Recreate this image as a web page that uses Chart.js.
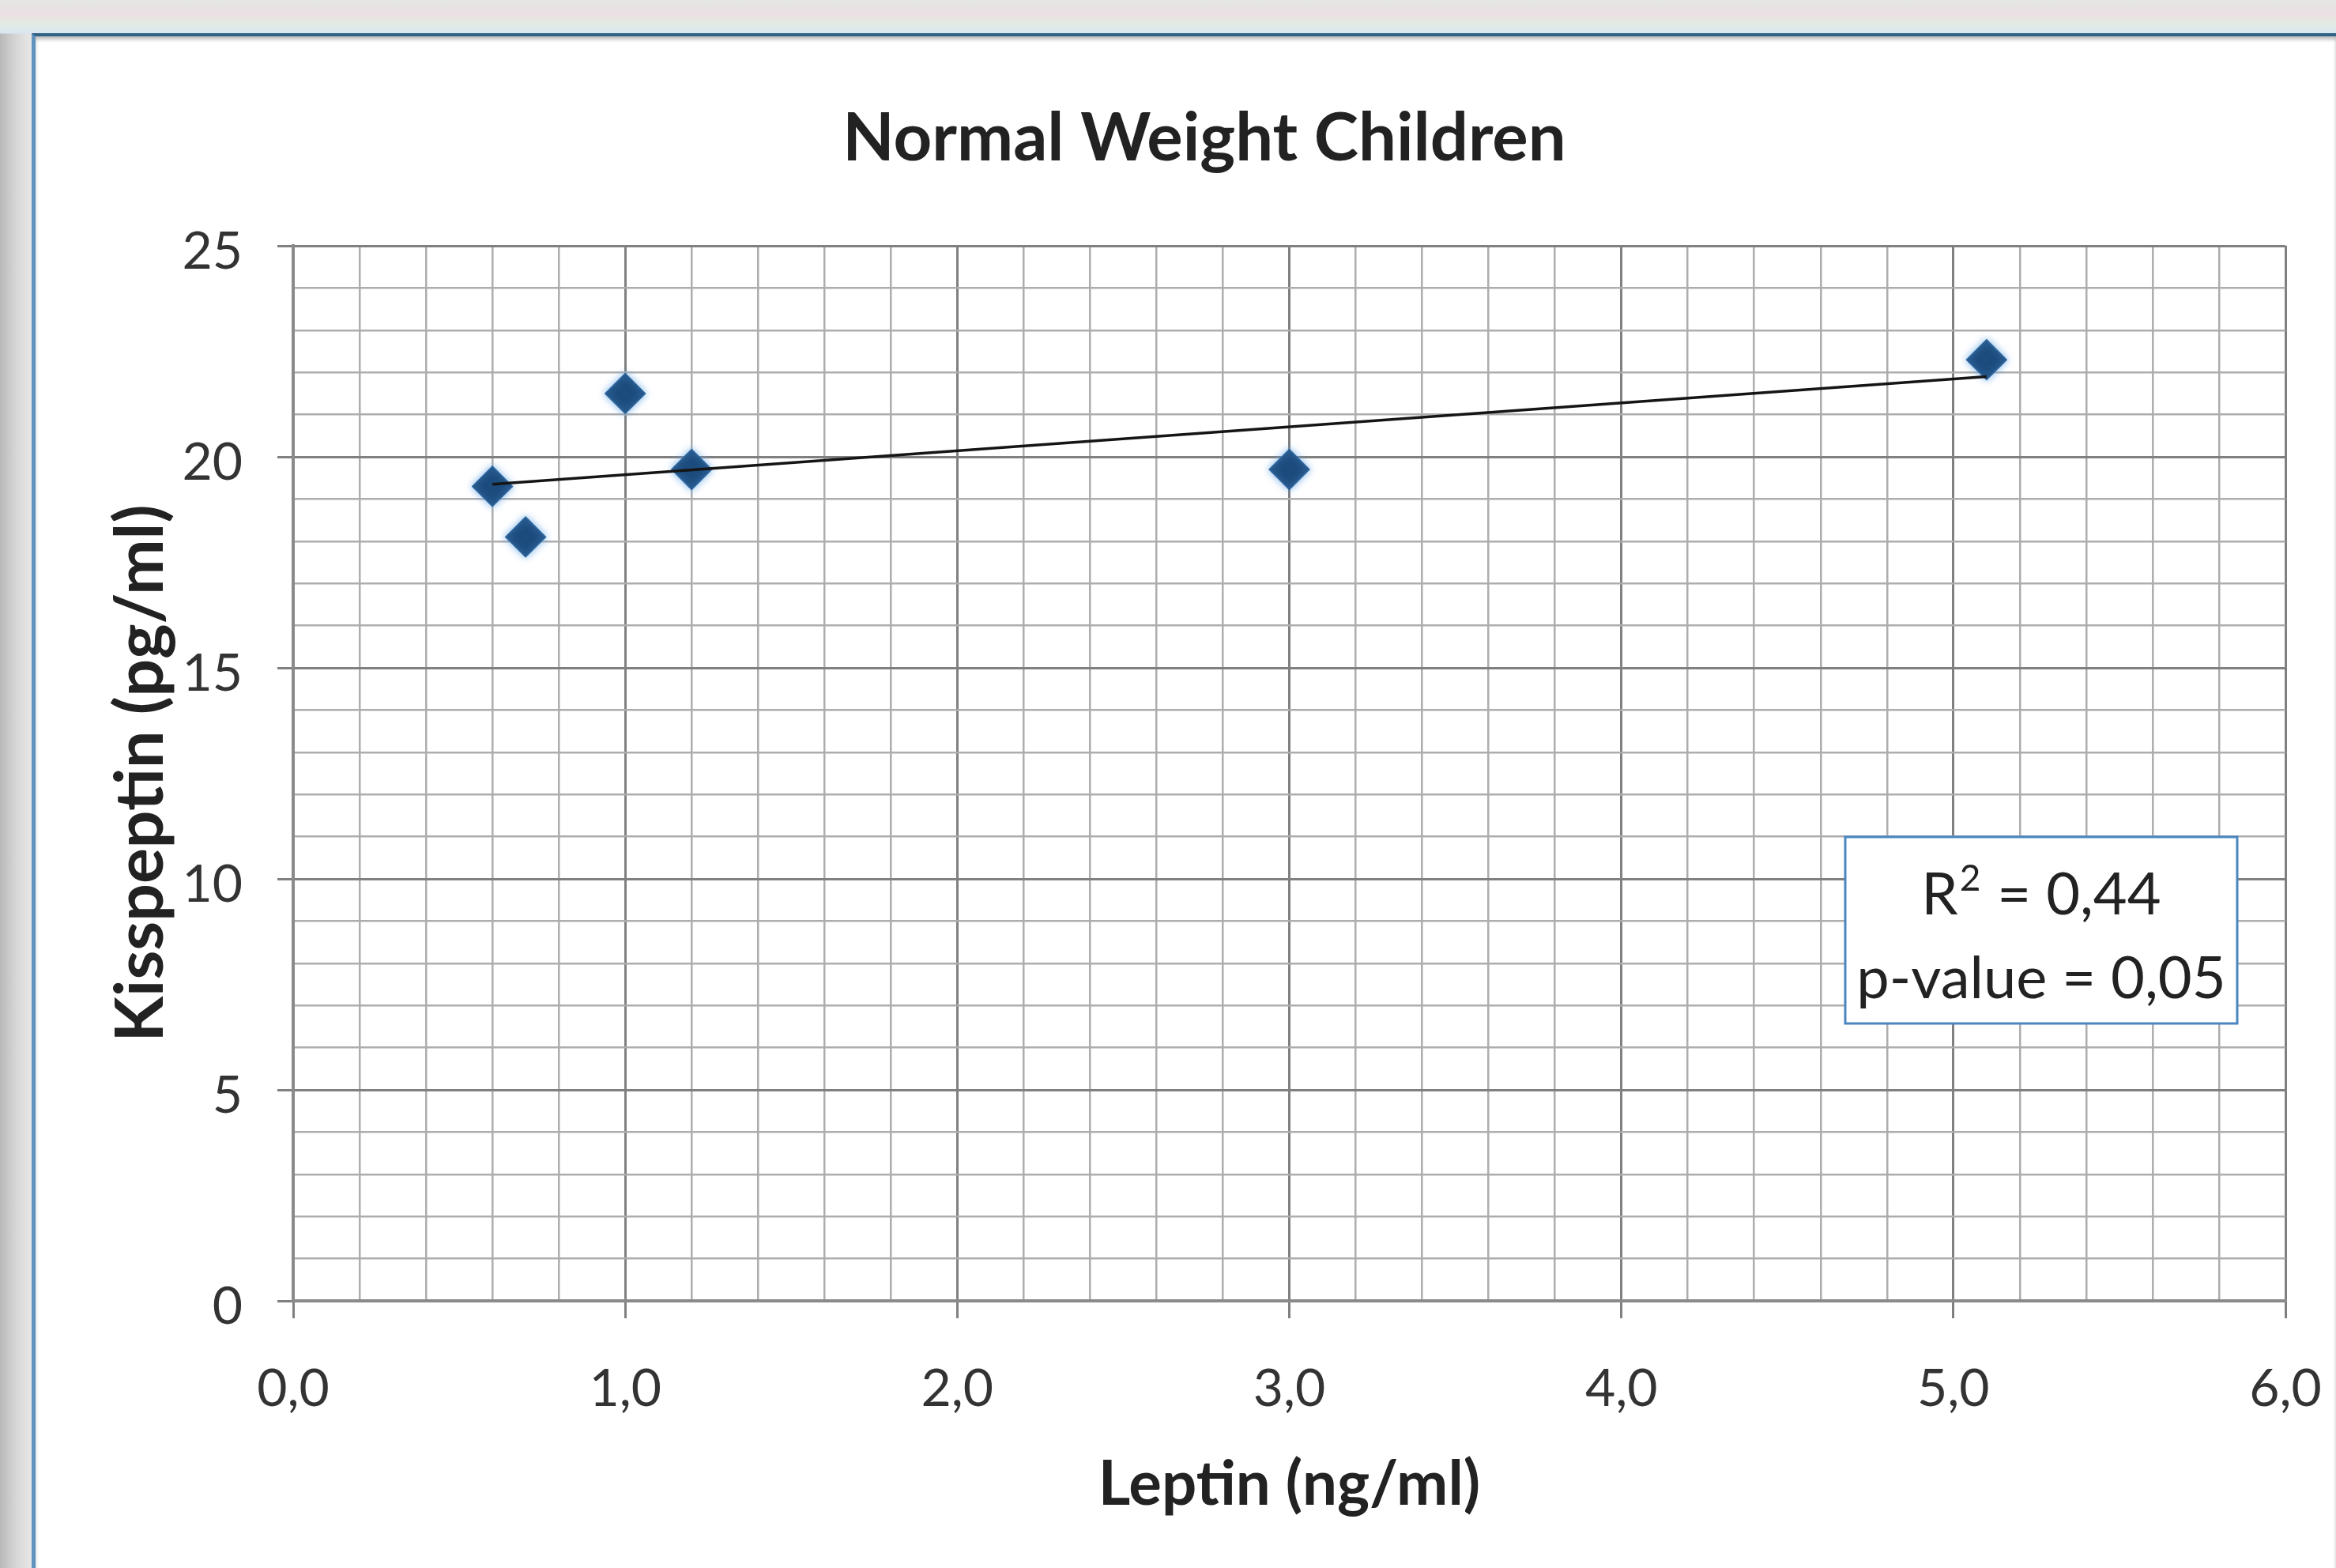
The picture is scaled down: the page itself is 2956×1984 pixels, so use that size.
<!DOCTYPE html>
<html>
<head>
<meta charset="utf-8">
<script src="https://cdn.jsdelivr.net/npm/chart.js@4"></script>
<style>
  html, body { margin:0; padding:0; width:2956px; height:1984px; overflow:hidden; }
  body {
    background:
      linear-gradient(to bottom, #e4e8e4 0px, #ecdfe3 18px, #e2ebe2 30px, #d8e6f2 42px, transparent 43px),
      linear-gradient(to right, #b9b9b9 0px, #d6d6d6 20px, #e6e6e6 38px);
    position:relative;
  }
  #frame {
    position:absolute; left:40px; top:42px; right:0; bottom:0;
    background:#ffffff;
    border-top:4px solid #2f6283;
    border-left:5px solid #5f93bd;
    box-shadow: inset 0 4px 4px rgba(0,0,0,0.25);
  }
  #c { position:absolute; left:0; top:0; }
</style>
</head>
<body>
<div id="frame"></div>
<canvas id="c" width="2956" height="1984"></canvas>
<script>
// ---- data ----
const leptin      = [0.6, 0.7, 1.0, 1.2, 3.0, 5.1];
const kisspeptin  = [19.3, 18.1, 21.5, 19.7, 19.7, 22.3];
const trendX      = [0.6, 5.1];
const trendY      = [19.35, 21.9];
const xTickValues = [0, 1, 2, 3, 4, 5, 6];
const xTickLabels = ['0,0', '1,0', '2,0', '3,0', '4,0', '5,0', '6,0'];
const yTickValues = [0, 5, 10, 15, 20, 25];
const yTickLabels = ['0', '5', '10', '15', '20', '25'];
const statLines   = ['R\u00B2 = 0,44', 'p-value = 0,05'];
const chartTitle  = 'Normal Weight Children';
const xTitle      = 'Leptin (ng/ml)';
const yTitle      = 'Kisspeptin (pg/ml)';

const FONT = 'Lato, "Open Sans", sans-serif';

function labelFor(values, labels, v) {
  for (let i = 0; i < values.length; i++) {
    if (Math.abs(values[i] - v) < 1e-6) return labels[i];
  }
  return '';
}
function isMajor(values, v) {
  return values.some(m => Math.abs(m - v) < 1e-6);
}

// draws a line of text where "²" is rendered as a raised, smaller "2"
function drawStatLine(ctx, text, cx, cy, size) {
  const parts = text.split('\u00B2');
  const big = size + 'px ' + FONT;
  const small = Math.round(size * 0.62) + 'px ' + FONT;
  ctx.font = big;
  let total = 0;
  const widths = parts.map(p => ctx.measureText(p).width);
  total = widths.reduce((a, b) => a + b, 0);
  ctx.font = small;
  const supW = ctx.measureText('2').width + 4;
  if (parts.length > 1) total += supW * (parts.length - 1);
  let x = cx - total / 2;
  ctx.textAlign = 'left';
  ctx.textBaseline = 'middle';
  parts.forEach((p, i) => {
    ctx.font = big;
    ctx.fillText(p, x, cy);
    x += widths[i];
    if (i < parts.length - 1) {
      ctx.font = small;
      ctx.fillText('2', x + 2, cy - size * 0.28);
      x += supW;
    }
  });
}

const statsBox = {
  id: 'statsBox',
  afterDraw(chart) {
    const {ctx, chartArea} = chart;
    const x0 = chartArea.right - 557, y0 = chartArea.top + 748;
    const w = 496, h = 236;
    ctx.save();
    ctx.fillStyle = '#ffffff';
    ctx.fillRect(x0, y0, w, h);
    ctx.strokeStyle = '#4a86bf';
    ctx.lineWidth = 3;
    ctx.strokeRect(x0, y0, w, h);
    ctx.fillStyle = '#222222';
    drawStatLine(ctx, statLines[0], x0 + w / 2, y0 + 74, 74);
    drawStatLine(ctx, statLines[1], x0 + w / 2, y0 + 180, 74);
    ctx.restore();
  }
};

// chart title, drawn centred where the reference places it (slightly right of page centre)
const titleText = {
  id: 'titleText',
  afterDraw(chart) {
    const ctx = chart.ctx;
    ctx.save();
    ctx.fillStyle = '#222222';
    ctx.font = 'bold 85px ' + FONT;
    ctx.textAlign = 'center';
    ctx.textBaseline = 'middle';
    ctx.fillText(chartTitle, 1524, 176);
    ctx.restore();
  }
};

const markerGlow = {
  id: 'markerGlow',
  beforeDatasetDraw(chart, args) {
    if (args.index !== 1) return;
    const ctx = chart.ctx;
    ctx.save();
    ctx.shadowColor = 'rgba(90,160,230,0.75)';
    ctx.shadowBlur = 10;
  },
  afterDatasetDraw(chart, args) {
    if (args.index !== 1) return;
    chart.ctx.restore();
  }
};

const fixAxes = (size, horizontal) => (scale) => {
  if (horizontal) scale.height = size; else scale.width = size;
  scale.paddingLeft = 0; scale.paddingRight = 0;
  scale.paddingTop = 0; scale.paddingBottom = 0;
};

new Chart(document.getElementById('c'), {
  type: 'scatter',
  data: {
    datasets: [
      {
        type: 'line',
        data: trendX.map((x, i) => ({x: x, y: trendY[i]})),
        borderColor: '#151515',
        borderWidth: 3.5,
        pointRadius: 0,
        fill: false,
        tension: 0
      },
      {
        data: leptin.map((x, i) => ({x: x, y: kisspeptin[i]})),
        pointStyle: 'rectRot',
        pointRadius: 25,
        backgroundColor: '#1c4b7c',
        borderColor: '#2d6399',
        borderWidth: 2
      }
    ]
  },
  options: {
    responsive: false,
    devicePixelRatio: 1,
    animation: false,
    layout: { padding: { left: 0, right: 64, top: 311, bottom: 0 } },
    plugins: {
      legend: { display: false },
      tooltip: { enabled: false },
      title: { display: false }
    },
    scales: {
      x: {
        type: 'linear',
        min: 0, max: 6,
        afterFit: fixAxes(338, true),
        afterBuildTicks(scale) {
          const t = [];
          for (let i = 0; i <= 30; i++) t.push({value: i / 5});
          scale.ticks = t;
        },
        ticks: {
          autoSkip: false,
          maxRotation: 0,
          color: '#333333',
          padding: 50,
          font: { family: FONT, size: 66 },
          callback: (v) => labelFor(xTickValues, xTickLabels, v)
        },
        grid: {
          color: (c) => isMajor(xTickValues, c.tick.value) ? '#808080' : '#adadad',
          lineWidth: (c) => isMajor(xTickValues, c.tick.value) ? 3 : 2.5,
          tickColor: (c) => isMajor(xTickValues, c.tick.value) ? '#808080' : 'rgba(0,0,0,0)',
          tickLength: 22,
          drawTicks: true
        },
        border: { display: true, color: '#8a8a8a', width: 4 },
        title: {
          display: true,
          text: xTitle,
          color: '#222222',
          font: { family: FONT, size: 78, weight: 'bold', lineHeight: 1.2 },
          padding: { top: 0, bottom: 58 }
        }
      },
      y: {
        type: 'linear',
        min: 0, max: 25,
        afterFit: fixAxes(371, false),
        afterBuildTicks(scale) {
          const t = [];
          for (let i = 0; i <= 25; i++) t.push({value: i});
          scale.ticks = t;
        },
        ticks: {
          autoSkip: false,
          color: '#333333',
          padding: 44,
          labelOffset: 8,
          font: { family: FONT, size: 66 },
          callback: (v) => labelFor(yTickValues, yTickLabels, v)
        },
        grid: {
          color: (c) => isMajor(yTickValues, c.tick.value) ? '#808080' : '#adadad',
          lineWidth: (c) => isMajor(yTickValues, c.tick.value) ? 3 : 2.5,
          tickColor: (c) => isMajor(yTickValues, c.tick.value) ? '#808080' : 'rgba(0,0,0,0)',
          tickLength: 20,
          drawTicks: true
        },
        border: { display: true, color: '#8a8a8a', width: 4 },
        title: {
          display: true,
          text: yTitle,
          color: '#222222',
          font: { family: FONT, size: 84, weight: 'bold', lineHeight: 1.2 },
          padding: { top: 129, bottom: 0 }
        }
      }
    }
  },
  plugins: [statsBox, markerGlow, titleText]
});
</script>
</body>
</html>
